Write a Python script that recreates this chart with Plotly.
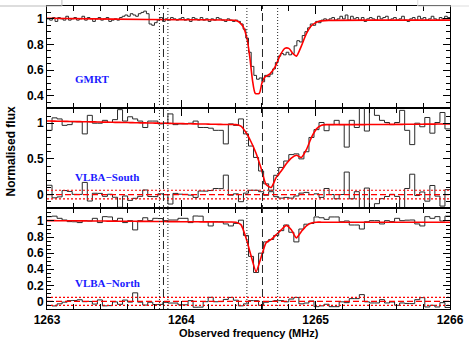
import plotly.graph_objects as go
from plotly.subplots import make_subplots

# ---------------- GMRT spectrum (0.02 MHz channels from 1263.00 MHz) ----------------
GMRT_START = 1263.0
GMRT_WIDTH = 0.02
gmrt_flux = [
    1.00, 0.99, 1.01, 0.98, 1.01, 1.00, 0.99, 1.02, 0.99, 1.00,
    1.01, 0.99, 1.00, 1.02, 0.99, 1.01, 1.00, 0.98, 1.00, 1.01,
    0.99, 1.00, 1.01, 0.98, 0.99, 1.00, 0.99, 1.01, 1.02, 1.03,
    1.02, 1.04, 1.03, 1.02, 1.04, 1.05, 1.06, 1.04, 0.96, 0.95,
    0.97, 0.99, 1.01, 0.98, 1.00, 0.99, 1.01, 1.00, 0.99, 1.00,
    1.01, 0.99, 1.00, 0.98, 1.01, 1.00, 0.99, 1.01, 0.99, 1.00,
    0.98, 1.00, 0.99, 1.01, 1.00, 0.99, 0.98, 1.00, 0.99, 0.98,
    0.99, 0.98, 0.96, 0.92, 0.85, 0.74, 0.63, 0.56, 0.53, 0.54,
    0.51, 0.56, 0.55, 0.57, 0.61, 0.66, 0.71, 0.73, 0.72, 0.74,
    0.72, 0.73, 0.79, 0.83, 0.82, 0.87, 0.90, 0.93, 0.96, 0.95,
    0.98, 0.97, 0.99, 1.00, 0.99, 1.00, 1.01, 0.99, 1.00, 1.02,
    1.00, 1.03, 0.99, 1.02, 1.00, 1.01, 0.99, 1.01, 0.98, 1.00,
    1.01, 1.00, 0.99, 1.02, 1.00, 1.01, 1.02, 0.99, 1.00, 1.01,
    0.99, 1.00, 1.02, 0.99, 0.98, 1.00, 1.01, 0.99, 1.02, 1.00,
    1.01, 0.99, 1.00, 1.02, 1.00, 0.99, 1.01, 1.00, 1.02, 1.01,
]
# Gaussian fit to the GMRT profile
gmrt_fit_freq = [1263.00, 1263.50, 1264.00, 1264.40, 1264.43, 1264.46, 1264.49, 1264.51,
                 1264.53, 1264.55, 1264.58, 1264.60, 1264.62, 1264.66, 1264.70, 1264.735,
                 1264.77, 1264.80, 1264.833, 1264.857, 1264.894, 1264.93, 1264.97, 1265.02,
                 1265.10, 1265.50, 1266.00]
gmrt_fit_flux = [1.005, 0.998, 0.993, 0.988, 0.975, 0.94, 0.84, 0.70,
                 0.52, 0.42, 0.42, 0.50, 0.545, 0.572, 0.63, 0.715,
                 0.77, 0.77, 0.727, 0.71, 0.79, 0.883, 0.948, 0.98,
                 0.988, 0.99, 0.99]

# ---------------- VLBA spectra (0.0375 MHz channels from 1263.00 MHz) ----------------
VLBA_START = 1263.0
VLBA_WIDTH = 0.0375
south_flux = [
    0.90, 1.075, 1.06, 0.97, 0.98, 1.02, 1.02, 0.85, 1.11, 1.00,
    1.00, 1.04, 1.01, 1.05, 1.19, 1.03, 1.09, 1.06, 1.03, 0.94,
    1.03, 1.03, 0.99, 1.00, 1.13, 0.98, 0.99, 0.99, 1.00, 1.03,
    0.94, 0.94, 0.93, 0.90, 0.90, 0.71, 0.99, 0.97, 1.06, 0.85,
    0.68, 0.52, 0.33, 0.15, 0.06, 0.27, 0.38, 0.47, 0.56, 0.57,
    0.50, 0.60, 0.80, 0.91, 1.01, 0.895, 0.98, 1.04, 0.98, 0.665,
    1.04, 0.94, 1.28, 0.89, 1.28, 1.11, 1.04, 1.01, 0.98, 1.01,
    1.18, 0.90, 0.70, 1.00, 0.95, 1.08, 0.86, 1.01, 1.15, 0.92,
]
south_fit = [
    1.030, 1.029, 1.027, 1.026, 1.024, 1.023, 1.022, 1.020, 1.019, 1.018,
    1.016, 1.015, 1.014, 1.012, 1.011, 1.010, 1.008, 1.007, 1.005, 1.004,
    1.003, 1.001, 1.000, 0.999, 0.997, 0.996, 0.995, 0.993, 0.992, 0.990,
    0.989, 0.988, 0.986, 0.985, 0.983, 0.982, 0.981, 0.980, 0.960, 0.870,
    0.740, 0.580, 0.370, 0.140, 0.100, 0.240, 0.330, 0.430, 0.510, 0.550,
    0.520, 0.630, 0.800, 0.920, 0.970, 0.980, 0.980, 0.980, 0.980, 0.980,
    0.980, 0.980, 0.980, 0.981, 0.981, 0.982, 0.982, 0.983, 0.983, 0.984,
    0.984, 0.985, 0.985, 0.986, 0.986, 0.987, 0.987, 0.988, 0.988, 0.989,
]
north_flux = [
    1.054, 1.060, 1.033, 1.012, 0.992, 0.990, 0.980, 1.004, 1.000, 1.033,
    0.980, 1.054, 1.050, 1.004, 1.033, 0.980, 1.004, 0.889, 1.004, 1.040,
    1.004, 1.033, 1.030, 1.004, 1.012, 1.012, 1.033, 1.033, 0.980, 1.062,
    1.060, 0.992, 0.938, 0.992, 0.990, 0.963, 0.938, 0.970, 1.010, 0.820,
    0.560, 0.360, 0.600, 0.740, 0.770, 0.820, 0.880, 0.950, 0.860, 0.740,
    0.900, 0.960, 0.970, 1.050, 1.040, 1.020, 1.050, 1.050, 0.990, 1.000,
    0.950, 0.950, 0.900, 0.990, 1.004, 1.004, 0.963, 1.004, 0.992, 1.033,
    1.004, 1.010, 1.012, 0.963, 0.938, 1.054, 1.033, 1.054, 1.000, 1.060,
]
north_fit = [
    1.004, 1.004, 1.003, 1.003, 1.002, 1.002, 1.001, 1.001, 1.000, 1.000,
    0.999, 0.999, 0.998, 0.998, 0.997, 0.997, 0.996, 0.996, 0.995, 0.995,
    0.994, 0.994, 0.993, 0.993, 0.992, 0.992, 0.991, 0.991, 0.990, 0.990,
    0.989, 0.989, 0.989, 0.988, 0.988, 0.988, 0.988, 0.985, 0.955, 0.790,
    0.570, 0.370, 0.550, 0.730, 0.770, 0.830, 0.890, 0.945, 0.890, 0.790,
    0.870, 0.940, 0.975, 0.985, 0.985, 0.985, 0.985, 0.985, 0.985, 0.985,
    0.985, 0.985, 0.985, 0.985, 0.985, 0.985, 0.985, 0.985, 0.985, 0.985,
    0.985, 0.985, 0.985, 0.985, 0.985, 0.985, 0.985, 0.985, 0.985, 0.985,
]
south_sigma = 0.06
north_sigma = 0.05

# Expected line positions (centre dashed, limits dotted)
line_centres = [1263.867, 1264.604]
line_limits = [1263.837, 1263.900, 1264.488, 1264.717]

panel_names = ["GMRT", "VLBA\u2212South", "VLBA\u2212North"]
panel_label_y = [0.53, 0.24, 0.23]

X_RANGE = [1263.0, 1266.0]
Y_RANGES = [[0.31, 1.10], [-0.19, 1.22], [-0.094, 1.16]]


def steps(start, width, values):
    edges = [start + width * k for k in range(len(values) + 1)]
    return edges, list(values) + [values[-1]]


def centres(start, width, n):
    return [start + width * (k + 0.5) for k in range(n)]


fig = make_subplots(rows=3, cols=1, shared_xaxes=True, vertical_spacing=0)

DATA_LINE = dict(color="#2a2a2a", width=1, shape="hv")
FIT_LINE = dict(color="#ff0000", width=1.6, shape="spline", smoothing=0.6)

# GMRT panel
gx, gy = steps(GMRT_START, GMRT_WIDTH, gmrt_flux)
fig.add_trace(go.Scatter(x=gx, y=gy, mode="lines", line=DATA_LINE), row=1, col=1)
fig.add_trace(go.Scatter(x=gmrt_fit_freq, y=gmrt_fit_flux, mode="lines", line=FIT_LINE), row=1, col=1)

# VLBA panels: spectrum, fit, residual (fit - data) and residual rms levels
for row, flux, fit, sigma in [(2, south_flux, south_fit, south_sigma),
                              (3, north_flux, north_fit, north_sigma)]:
    vx, vy = steps(VLBA_START, VLBA_WIDTH, flux)
    fig.add_trace(go.Scatter(x=vx, y=vy, mode="lines", line=DATA_LINE), row=row, col=1)
    resid = [m - d for m, d in zip(fit, flux)]
    rx, ry = steps(VLBA_START, VLBA_WIDTH, resid)
    fig.add_trace(go.Scatter(x=rx, y=ry, mode="lines", line=DATA_LINE), row=row, col=1)
    for lvl, dash in [(0.0, "6px,3px"), (sigma, "2px,2px"), (-sigma, "2px,2px")]:
        fig.add_trace(go.Scatter(x=X_RANGE, y=[lvl, lvl], mode="lines",
                                 line=dict(color="#ff0000", width=1.2, dash=dash)), row=row, col=1)
    cx = [VLBA_START] + centres(VLBA_START, VLBA_WIDTH, len(fit)) + [X_RANGE[1]]
    cy = [fit[0]] + fit + [fit[-1]]
    fig.add_trace(go.Scatter(x=cx, y=cy, mode="lines", line=FIT_LINE), row=row, col=1)

# Vertical markers across all panels
for f in line_centres:
    fig.add_shape(type="line", xref="x", yref="paper", x0=f, x1=f, y0=0, y1=1,
                  line=dict(color="#222222", width=1, dash="8px,4px"))
for f in line_limits:
    fig.add_shape(type="line", xref="x", yref="paper", x0=f, x1=f, y0=0, y1=1,
                  line=dict(color="#222222", width=1, dash="1px,2px"))

domains = [[0.665, 1.0], [0.333, 0.665], [0.0, 0.333]]
y_major = [0.2, 0.5, 0.2]
y_minor = [0.05, 0.1, 0.05]
TICKFONT = dict(family="Liberation Sans", size=12, color="black", weight="bold")

for i in range(3):
    ax = "" if i == 0 else str(i + 1)
    fig.layout["yaxis" + ax].update(
        domain=domains[i], range=Y_RANGES[i], dtick=y_major[i], tick0=0,
        ticks="inside", ticklen=7, tickcolor="black", mirror="ticks",
        showline=True, linecolor="black", linewidth=1, showgrid=False, zeroline=False,
        tickfont=TICKFONT,
        minor=dict(dtick=y_minor[i], ticks="inside", ticklen=4, tickcolor="black", showgrid=False),
    )
    fig.layout["xaxis" + ax].update(
        range=X_RANGE, dtick=1, tick0=1263, ticks="inside", ticklen=8, tickcolor="black",
        mirror="ticks", showline=True, linecolor="black", linewidth=1, showgrid=False,
        zeroline=False, showticklabels=(i == 2), tickfont=TICKFONT,
        minor=dict(dtick=0.2, ticks="inside", ticklen=5, tickcolor="black", showgrid=False),
    )
    fig.add_annotation(x=1263.19, y=panel_label_y[i], xref="x" + ax, yref="y" + ax,
                       text=panel_names[i], showarrow=False, xanchor="left", yanchor="middle",
                       font=dict(family="Liberation Serif", size=11, color="#1a1aff", weight="bold"))

fig.add_annotation(x=-0.087, y=0.52, xref="paper", yref="paper", text="Normalised flux",
                   textangle=-90, showarrow=False, xanchor="center", yanchor="middle",
                   font=dict(family="Liberation Sans", size=12, color="black", weight="bold"))
fig.add_annotation(x=0.5, y=-0.08, xref="paper", yref="paper", text="Observed frequency (MHz)",
                   showarrow=False, xanchor="center", yanchor="middle",
                   font=dict(family="Liberation Sans", size=11, color="black", weight="bold"))

# page-edge frames
fig.add_shape(type="rect", xref="paper", yref="paper", x0=-0.12, x1=0.037, y0=1.0, y1=1.03,
              line=dict(color="#bbbbbb", width=1))
fig.add_shape(type="rect", xref="paper", yref="paper", x0=0.92, x1=1.05, y0=1.0, y1=1.03,
              line=dict(color="#dddddd", width=1))

fig.update_layout(width=469, height=344, margin=dict(l=47, r=16, t=5, b=35),
                  paper_bgcolor="white", plot_bgcolor="white", showlegend=False)

fig.write_html("out.html")
